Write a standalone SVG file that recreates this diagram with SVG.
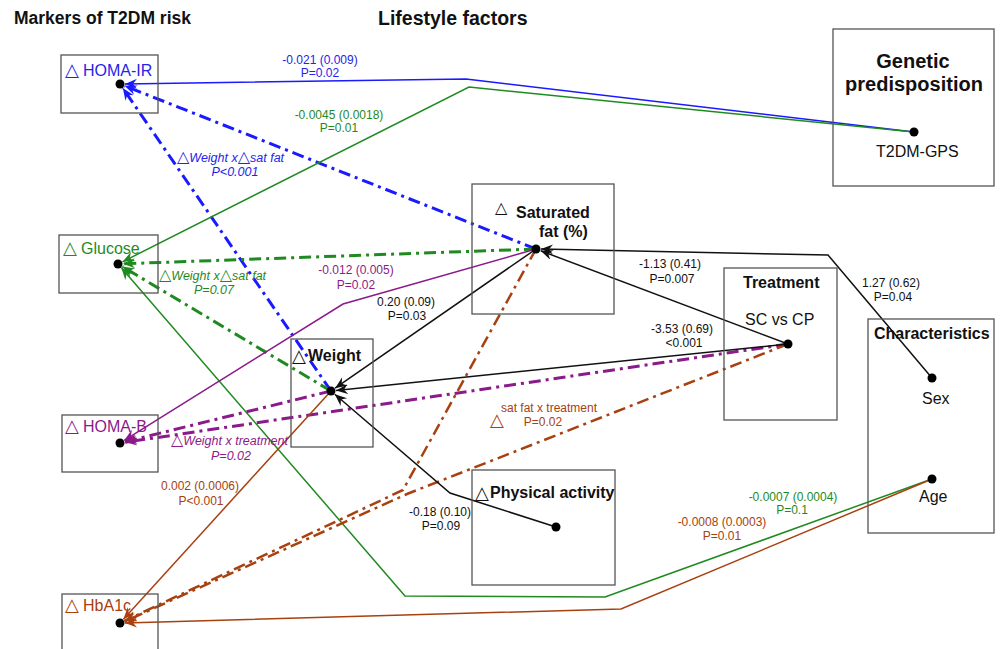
<svg xmlns="http://www.w3.org/2000/svg" width="1000" height="649" viewBox="0 0 1000 649">
<defs>
<style>
text{font-family:"Liberation Sans","DejaVu Sans",sans-serif;}
.box{fill:none;stroke:#555;stroke-width:1.3;}
.dot{fill:#000;}
.title{font-weight:bold;fill:#111;}
.nl{font-size:16px;}
.b{font-weight:bold;}
.tri{font-family:"DejaVu Sans",sans-serif;font-size:16px;font-style:normal;}
.ntri{font-family:"DejaVu Sans",sans-serif;font-size:18px;}
.lab{font-size:12px;text-anchor:middle;}
.it{font-style:italic;font-size:12.5px;}
.solid{fill:none;stroke-width:1.5;}
.dd{fill:none;stroke-width:3;stroke-dasharray:12 5 3 5;}
.ddb{fill:none;stroke-width:2.5;stroke-dasharray:12 5 3 5;}
.cb{stroke:#1a1aff;}
.cg{stroke:#1f8a1f;}
.cp{stroke:#8b1a8b;}
.cr{stroke:#a8400f;}
.ck{stroke:#111;}
.tb{fill:#2424e8;}
.tg{fill:#1f8a1f;}
.tp{fill:#8b1a8b;}
.tr{fill:#a8400f;}
.tk{fill:#111;}
</style>
<marker id="ab" markerUnits="userSpaceOnUse" markerWidth="13" markerHeight="11" refX="12" refY="5" orient="auto"><path d="M0,0 L12,5 L0,10 L4,5 Z" fill="#1a1aff"/></marker>
<marker id="ag" markerUnits="userSpaceOnUse" markerWidth="13" markerHeight="11" refX="12" refY="5" orient="auto"><path d="M0,0 L12,5 L0,10 L4,5 Z" fill="#1f8a1f"/></marker>
<marker id="ap" markerUnits="userSpaceOnUse" markerWidth="13" markerHeight="11" refX="12" refY="5" orient="auto"><path d="M0,0 L12,5 L0,10 L4,5 Z" fill="#8b1a8b"/></marker>
<marker id="ar" markerUnits="userSpaceOnUse" markerWidth="13" markerHeight="11" refX="12" refY="5" orient="auto"><path d="M0,0 L12,5 L0,10 L4,5 Z" fill="#a8400f"/></marker>
<marker id="ak" markerUnits="userSpaceOnUse" markerWidth="13" markerHeight="11" refX="12" refY="5" orient="auto"><path d="M0,0 L12,5 L0,10 L4,5 Z" fill="#111"/></marker>
</defs>
<rect width="1000" height="649" fill="#fff"/>

<g id="titles">
<text class="title" x="14" y="24" font-size="17.5">Markers of T2DM risk</text>
<text class="title" x="378" y="25" font-size="19.5">Lifestyle factors</text>
</g>

<g id="connectors">
<polyline class="solid cb" points="914,132 466,79 125,84" marker-end="url(#ab)"/>
<line class="dd cb" x1="536" y1="249" x2="124.6" y2="85.8" marker-end="url(#ab)"/>
<line class="dd cb" x1="331" y1="391" x2="122.8" y2="88.1" marker-end="url(#ab)"/>
<polyline class="solid cg" points="914,132 469,87 122.5,261.8" marker-end="url(#ag)"/>
<line class="dd cg" x1="536" y1="249" x2="123" y2="263.8" marker-end="url(#ag)"/>
<line class="dd cg" x1="331" y1="391" x2="122.3" y2="266.6" marker-end="url(#ag)"/>
<polyline class="solid cg" points="932,479 605,597 405,596 121.3,267.8" marker-end="url(#ag)"/>
<polyline class="solid cp" points="536,249 343,304 124.2,440.4" marker-end="url(#ap)"/>
<line class="dd cp" x1="331" y1="391" x2="124.9" y2="441.8" marker-end="url(#ap)"/>
<line class="dd cp" x1="788" y1="344" x2="124.9" y2="442.3" marker-end="url(#ap)"/>
<line class="solid cr" x1="331" y1="391" x2="123.4" y2="619.3" marker-end="url(#ar)"/>
<polyline class="ddb cr" points="536,249 403,490 124.5,620.9" marker-end="url(#ar)"/>
<polyline class="ddb cr" points="788,344 407,494 124.6,621.5" marker-end="url(#ar)"/>
<polyline class="solid cr" points="932,479 621,609 125,622.9" marker-end="url(#ar)"/>
<polyline class="solid ck" points="932,378 828,255 541,249.1" marker-end="url(#ak)"/>
<line class="solid ck" x1="788" y1="344" x2="540.7" y2="250.8" marker-end="url(#ak)"/>
<line class="solid ck" x1="536" y1="249" x2="335.1" y2="388.2" marker-end="url(#ak)"/>
<line class="solid ck" x1="788" y1="344" x2="336" y2="390.5" marker-end="url(#ak)"/>
<polyline class="solid ck" points="556,527 450,493 334.8,394.3" marker-end="url(#ak)"/>

<text class="lab tb" x="320" y="64">-0.021 (0.009)</text>
<text class="lab tb" x="320" y="77">P=0.02</text>
<text class="lab tg" x="339" y="119">-0.0045 (0.0018)</text>
<text class="lab tg" x="339" y="132">P=0.01</text>
<text class="tb" x="177" y="162"><tspan class="tri">△</tspan><tspan class="it">Weight x</tspan><tspan class="tri">△</tspan><tspan class="it">sat fat</tspan></text>
<text class="tb it" x="235" y="176" text-anchor="middle">P&lt;0.001</text>
<text class="tg" x="159" y="280"><tspan class="tri">△</tspan><tspan class="it">Weight x</tspan><tspan class="tri">△</tspan><tspan class="it">sat fat</tspan></text>
<text class="tg it" x="214" y="294" text-anchor="middle">P=0.07</text>
<text class="lab tp" x="356" y="274">-0.012 (0.005)</text>
<text class="lab tp" x="356" y="289">P=0.02</text>
<text class="lab tk" x="406" y="306">0.20 (0.09)</text>
<text class="lab tk" x="407" y="320">P=0.03</text>
<text class="lab tk" x="670" y="268">-1.13 (0.41)</text>
<text class="lab tk" x="672" y="283">P=0.007</text>
<text class="lab tk" x="891" y="287">1.27 (0.62)</text>
<text class="lab tk" x="893" y="301">P=0.04</text>
<text class="lab tk" x="682" y="333">-3.53 (0.69)</text>
<text class="lab tk" x="684" y="347">&lt;0.001</text>
<text class="tp" x="171" y="445"><tspan class="tri">△</tspan><tspan class="it">Weight x treatment</tspan></text>
<text class="tp it" x="231" y="460" text-anchor="middle">P=0.02</text>
<text class="lab tr" x="200" y="490">0.002 (0.0006)</text>
<text class="lab tr" x="201" y="505">P&lt;0.001</text>
<text class="tr ntri" x="490" y="426">△</text>
<text class="tr" x="501" y="412" font-size="12">sat fat x treatment</text>
<text class="lab tr" x="543" y="426">P=0.02</text>
<text class="lab tk" x="440" y="516">-0.18 (0.10)</text>
<text class="lab tk" x="441" y="530">P=0.09</text>
<text class="lab tg" x="793" y="501">-0.0007 (0.0004)</text>
<text class="lab tg" x="792" y="514">P=0.1</text>
<text class="lab tr" x="722" y="526">-0.0008 (0.0003)</text>
<text class="lab tr" x="722" y="540">P=0.01</text>
</g>

<g id="homa-ir">
<rect class="box" x="61" y="55" width="97" height="58"/>
<text class="tb ntri" x="65" y="76">△</text>
<text class="tb nl" x="83" y="76">HOMA-IR</text>
<circle class="dot" cx="120" cy="84" r="4.5"/>
</g>
<g id="glucose">
<rect class="box" x="59" y="235" width="99" height="58"/>
<text class="tg ntri" x="63" y="254">△</text>
<text class="tg nl" x="81" y="254">Glucose</text>
<circle class="dot" cx="118" cy="264" r="4.5"/>
</g>
<g id="homa-b">
<rect class="box" x="62" y="415" width="96" height="57"/>
<text class="tp ntri" x="65" y="432">△</text>
<text class="tp nl" x="83" y="432">HOMA-B</text>
<circle class="dot" cx="120" cy="443" r="4.5"/>
</g>
<g id="hba1c">
<rect class="box" x="62" y="594" width="96" height="70"/>
<text class="tr ntri" x="65" y="611">△</text>
<text class="tr nl" x="83" y="611">HbA1c</text>
<circle class="dot" cx="120" cy="623" r="4.5"/>
</g>
<g id="weight">
<rect class="box" x="291" y="339" width="82" height="108"/>
<text class="tk ntri" x="292" y="362">△</text>
<text class="tk nl b" x="308" y="361">Weight</text>
<circle class="dot" cx="331" cy="391" r="4.5"/>
</g>
<g id="satfat">
<rect class="box" x="472" y="184" width="142" height="130"/>
<text class="tk tri" x="495" y="213">△</text>
<text class="tk nl b" x="516" y="218">Saturated</text>
<text class="tk nl b" x="539" y="237">fat (%)</text>
<circle class="dot" cx="536" cy="249" r="4.5"/>
</g>
<g id="physical">
<rect class="box" x="472" y="470" width="143" height="115"/>
<text class="tk ntri" x="475" y="499">△</text>
<text class="tk nl b" x="490" y="498">Physical activity</text>
<circle class="dot" cx="556" cy="527" r="4.5"/>
</g>
<g id="treatment">
<rect class="box" x="724" y="268" width="113" height="152"/>
<text class="tk nl b" x="743" y="288">Treatment</text>
<text class="tk nl" x="745" y="325">SC vs CP</text>
<circle class="dot" cx="788" cy="344" r="4.5"/>
</g>
<g id="characteristics">
<rect class="box" x="868" y="319" width="126" height="214"/>
<text class="tk nl b" x="874" y="339">Characteristics</text>
<text class="tk nl" x="922" y="404">Sex</text>
<text class="tk nl" x="919" y="502">Age</text>
<circle class="dot" cx="932" cy="378" r="4.5"/>
<circle class="dot" cx="932" cy="479" r="4.5"/>
</g>
<g id="genetic">
<rect class="box" x="833" y="29" width="161" height="157"/>
<text class="tk b" x="913" y="68" font-size="20" text-anchor="middle">Genetic</text>
<text class="tk b" x="914" y="91" font-size="20" text-anchor="middle">predisposition</text>
<text class="tk nl" x="876" y="157">T2DM-GPS</text>
<circle class="dot" cx="914" cy="132" r="4.5"/>
</g>
</svg>
